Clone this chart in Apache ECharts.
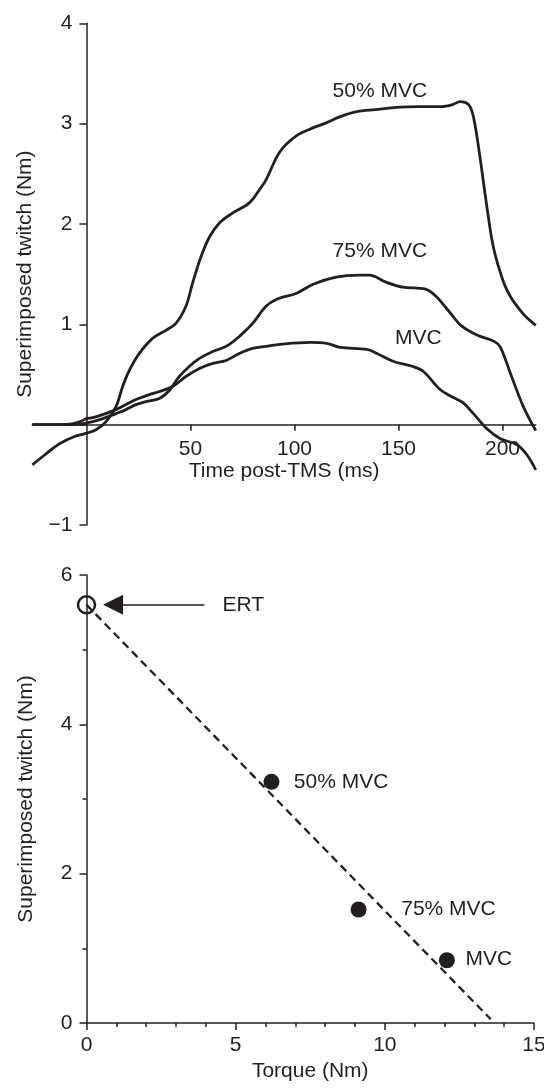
<!DOCTYPE html>
<html>
<head>
<meta charset="utf-8">
<script src="https://cdn.jsdelivr.net/npm/echarts@6/dist/echarts.min.js"></script>
<style>
  html, body { margin: 0; padding: 0; background: #fff; }
  #chart { width: 544px; height: 1089px; }
</style>
</head>
<body>
<div id="chart"></div>
<script>
// top panel: twitch traces after TMS (time in ms, twitch in Nm)
const time50 = [-26, -20, -13, -6, 0, 4.6, 9.4, 14.2, 17.4, 20.6, 25.4, 31.8, 38.2, 43, 47.8, 51, 55, 59.1, 63.9, 70.3, 78.3, 83.1, 86.3, 93, 101, 108, 115.5, 122, 130, 139, 147.6, 160, 170.8, 176, 179.6, 183.7, 186, 189, 192.5, 195.7, 200.5, 204, 208.5, 212, 216];
const twitch50 = [-0.40, -0.30, -0.19, -0.12, -0.085, -0.05, 0.03, 0.18, 0.38, 0.54, 0.71, 0.86, 0.94, 1.01, 1.18, 1.41, 1.67, 1.87, 2.01, 2.11, 2.21, 2.34, 2.44, 2.72, 2.88, 2.95, 3.01, 3.07, 3.12, 3.14, 3.16, 3.17, 3.17, 3.19, 3.22, 3.19, 3.07, 2.69, 2.17, 1.76, 1.42, 1.27, 1.14, 1.06, 0.99];

const time75 = [-26, -15, -8, -3, 3, 7.8, 14.2, 19, 23.8, 28.6, 35, 39.8, 44.6, 49.4, 54.3, 60.7, 67.1, 73.5, 79.9, 86.3, 91.5, 101, 109, 120, 131, 136, 144, 152, 163, 168, 175, 180, 188, 196, 199, 204, 210, 216];
const twitch75 = [0, 0, 0, 0.005, 0.03, 0.06, 0.11, 0.15, 0.2, 0.23, 0.26, 0.34, 0.48, 0.58, 0.66, 0.73, 0.78, 0.88, 1.01, 1.18, 1.25, 1.31, 1.40, 1.47, 1.49, 1.49, 1.42, 1.37, 1.35, 1.28, 1.11, 0.99, 0.89, 0.83, 0.77, 0.5, 0.18, -0.06];

const timeMvc = [-26, -15, -8, -3, 0, 3, 7.8, 14.2, 19, 23.8, 30.2, 35, 41.4, 47.8, 54.3, 60.7, 67.1, 73.5, 79.9, 86.3, 93, 107.5, 115.5, 122, 134.8, 139.6, 147.6, 157, 162, 170, 176.4, 181, 186, 192.5, 199, 207, 211.7, 216];
const twitchMvc = [0, 0, 0.005, 0.03, 0.06, 0.07, 0.10, 0.15, 0.2, 0.25, 0.30, 0.33, 0.38, 0.48, 0.56, 0.61, 0.64, 0.71, 0.76, 0.78, 0.80, 0.82, 0.81, 0.77, 0.75, 0.71, 0.63, 0.58, 0.53, 0.35, 0.27, 0.22, 0.11, -0.04, -0.14, -0.2, -0.3, -0.45];

const topLabels = ['50% MVC', '75% MVC', 'MVC'];
const topLabelTime = [141, 141, 159.5];
const topLabelTwitch = [3.32, 1.73, 0.86];

const timeTicks = [50, 100, 150, 200];

// bottom panel: twitch vs voluntary torque
const pointNames = ['50% MVC', '75% MVC', 'MVC'];
const torque = [6.2, 9.12, 12.08];
const twitchAmp = [3.23, 1.52, 0.84];
const ertTorque = 0;
const ertTwitch = 5.6;
const fitTorque = [0, 13.55];
const fitTwitch = [5.6, 0.05];
const arrowTorque = [3.95, 0.89];

const pointLabelTorque = [6.95, 10.55, 12.7];
const pointLabelTwitch = [3.23, 1.52, 0.86];
const ertLabelTorque = 4.56;

const ink = '#231f20';
const font = '"Liberation Sans", Arial, Helvetica, sans-serif';
const txt = { color: ink, fontFamily: font, fontSize: 21, opacity: 1 };
const axisLn = { color: ink, width: 1.5 };

// top panel frame: axes cross at (0, 0) inside the plotted range
const topX = { min: -26, max: 216 };
const topY = { min: -1, max: 4 };
const topGrid = { left: 32.4, width: 503.4, top: 23.3, height: 501.7 };
const yAxisShift = (0 - topX.min) / (topX.max - topX.min) * topGrid.width;
const xAxisShift = (0 - topY.min) / (topY.max - topY.min) * topGrid.height;

const zip = (xs, ys) => xs.map((x, i) => [x, ys[i]]);
const trace = (xs, ys) => ({
  type: 'line', xAxisIndex: 0, yAxisIndex: 0,
  data: zip(xs, ys), smooth: 0.35, symbol: 'none',
  lineStyle: { color: ink, width: 2.8, opacity: 1 }, silent: true
});

const chart = echarts.init(document.getElementById('chart'));
chart.setOption({
  animation: false,
  backgroundColor: '#fff',
  grid: [
    Object.assign({ outerBoundsMode: 'none' }, topGrid),
    { left: 86.5, width: 447.5, top: 575, height: 448, outerBoundsMode: 'none' }
  ],
  xAxis: [
    {
      gridIndex: 0, type: 'value', min: topX.min, max: topX.max,
      position: 'bottom', offset: -xAxisShift,
      axisLine: { onZero: false, lineStyle: axisLn },
      axisTick: { customValues: timeTicks, length: 6, lineStyle: axisLn },
      axisLabel: { customValues: timeTicks, margin: 14, ...txt },
      splitLine: { show: false },
      name: 'Time post-TMS (ms)', nameLocation: 'middle', nameGap: 31, nameTextStyle: txt
    },
    {
      gridIndex: 1, type: 'value', min: 0, max: 15, interval: 5,
      axisLine: { onZero: false, lineStyle: axisLn },
      axisTick: { length: 7, lineStyle: axisLn },
      minorTick: { show: true, splitNumber: 5, length: 4, lineStyle: axisLn },
      axisLabel: { margin: 12, ...txt },
      splitLine: { show: false },
      name: 'Torque (Nm)', nameLocation: 'middle', nameGap: 38, nameTextStyle: txt
    }
  ],
  yAxis: [
    {
      gridIndex: 0, type: 'value', min: topY.min, max: topY.max, interval: 1,
      position: 'left', offset: -yAxisShift,
      axisLine: { onZero: false, lineStyle: axisLn },
      axisTick: { length: 7, lineStyle: axisLn },
      axisLabel: {
        margin: 14, ...txt,
        formatter: v => v === 0 ? '' : (v < 0 ? '\u2212' + Math.abs(v) : String(v))
      },
      splitLine: { show: false },
      name: 'Superimposed twitch (Nm)', nameLocation: 'middle', nameGap: 51, nameTextStyle: txt
    },
    {
      gridIndex: 1, type: 'value', min: 0, max: 6, interval: 2,
      axisLine: { onZero: false, lineStyle: axisLn },
      axisTick: { length: 7, lineStyle: axisLn },
      minorTick: { show: true, splitNumber: 2, length: 4, lineStyle: axisLn },
      axisLabel: { margin: 14, ...txt },
      splitLine: { show: false },
      name: 'Superimposed twitch (Nm)', nameLocation: 'middle', nameGap: 50, nameTextStyle: txt
    }
  ],
  series: [
    trace(time50, twitch50),
    trace(time75, twitch75),
    trace(timeMvc, twitchMvc),
    {
      type: 'scatter', xAxisIndex: 0, yAxisIndex: 0, silent: true,
      symbolSize: 0, itemStyle: { opacity: 1 },
      data: topLabels.map((n, i) => ({ name: n, value: [topLabelTime[i], topLabelTwitch[i]] })),
      label: { show: true, position: 'inside', formatter: '{b}', ...txt }
    },
    {
      type: 'line', xAxisIndex: 1, yAxisIndex: 1, silent: true,
      data: zip(fitTorque, fitTwitch), symbol: 'none',
      lineStyle: { color: ink, width: 2.3, type: [8, 5], opacity: 1 },
      markLine: {
        silent: true, symbol: ['none', 'triangle'], symbolSize: 20,
        label: { show: false },
        lineStyle: { color: ink, width: 1.5, type: 'solid', opacity: 1 },
        itemStyle: { color: ink, opacity: 1 },
        data: [[{ coord: [arrowTorque[0], ertTwitch] }, { coord: [arrowTorque[1], ertTwitch] }]]
      }
    },
    {
      type: 'scatter', xAxisIndex: 1, yAxisIndex: 1, silent: true,
      data: zip(torque, twitchAmp), symbolSize: 16,
      itemStyle: { color: ink, opacity: 1 }
    },
    {
      type: 'scatter', xAxisIndex: 1, yAxisIndex: 1, silent: true,
      data: [[ertTorque, ertTwitch]], symbolSize: 17,
      itemStyle: { color: 'rgba(0,0,0,0)', borderColor: ink, borderWidth: 2.5, opacity: 1 }
    },
    {
      type: 'scatter', xAxisIndex: 1, yAxisIndex: 1, silent: true,
      symbolSize: 0, itemStyle: { opacity: 1 },
      data: pointNames.map((n, i) => ({ name: n, value: [pointLabelTorque[i], pointLabelTwitch[i]] }))
        .concat([{ name: 'ERT', value: [ertLabelTorque, ertTwitch] }]),
      label: { show: true, position: 'right', distance: 0, formatter: '{b}', ...txt }
    }
  ]
});
</script>
</body>
</html>
